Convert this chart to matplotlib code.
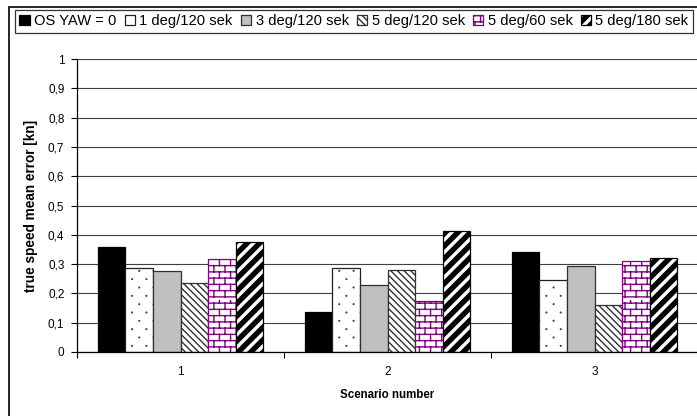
import numpy as np
import matplotlib
matplotlib.use("Agg")
import matplotlib.pyplot as plt
import matplotlib.hatch as mhatch
from matplotlib.path import Path
from matplotlib.patches import Rectangle
from matplotlib.ticker import FuncFormatter, MultipleLocator, FixedLocator

# ---------------------------------------------------------------- data
scenarios = ["1", "2", "3"]
series_names = ["OS YAW = 0", "1 deg/120 sek", "3 deg/120 sek",
                "5 deg/120 sek", "5 deg/60 sek", "5 deg/180 sek"]
os_yaw_0 = [0.357, 0.136, 0.343]
deg1_120 = [0.286, 0.286, 0.247]
deg3_120 = [0.275, 0.230, 0.293]
deg5_120 = [0.237, 0.280, 0.161]
deg5_60 = [0.318, 0.174, 0.310]
deg5_180 = [0.374, 0.412, 0.321]
series_values = [os_yaw_0, deg1_120, deg3_120, deg5_120, deg5_60, deg5_180]
y_ticks = [0.0, 0.1, 0.2, 0.3, 0.4, 0.5, 0.6, 0.7, 0.8, 0.9, 1.0]


# ---------------------------------------------------------------- custom fill patterns
class SparseDots(mhatch.HatchPatternBase):
    """Staggered small filled dots, triggered by 'o'."""
    rows, cols, radius, nseg = 12, 7, 0.003, 6

    def __init__(self, hatch, density):
        self.on = hatch.count('o') > 0
        self.num_shapes = self.rows * self.cols
        self.num_vertices = self.num_shapes * (self.nseg + 1) if self.on else 0

    def set_vertices_and_codes(self, vertices, codes):
        ang = np.linspace(0, 2 * np.pi, self.nseg, endpoint=False)
        circ = np.column_stack([np.cos(ang), np.sin(ang)]) * self.radius
        k = 0
        for r in range(self.rows):
            y = (r + 0.5) / self.rows
            for c in range(self.cols):
                x = (c + (0.25 if r % 2 == 0 else 0.75)) / self.cols
                vertices[k:k + self.nseg] = circ + (x, y)
                vertices[k + self.nseg] = (x, y)
                codes[k] = Path.MOVETO
                codes[k + 1:k + self.nseg] = Path.LINETO
                codes[k + self.nseg] = Path.CLOSEPOLY
                k += self.nseg + 1


class Bricks(mhatch.HatchPatternBase):
    """Brick wall pattern, triggered by '*'."""
    rows, cols = 16, 9

    def __init__(self, hatch, density):
        self.on = hatch.count('*') > 0
        n = self.rows + self.rows * self.cols
        self.num_vertices = 2 * n if self.on else 0

    def set_vertices_and_codes(self, vertices, codes):
        k = 0
        h = 1.0 / self.rows
        for r in range(self.rows):
            y = (r + 0.5) * h
            vertices[k] = (0, y)
            vertices[k + 1] = (1, y)
            k += 2
        for r in range(self.rows):
            y0 = (r + 0.5) * h
            for c in range(self.cols):
                x = (c + (0.25 if r % 2 == 0 else 0.75)) / self.cols
                vertices[k] = (x, y0)
                vertices[k + 1] = (x, y0 + h)
                k += 2
        codes[0::2] = Path.MOVETO
        codes[1::2] = Path.LINETO


class WideStripes(mhatch.HatchPatternBase):
    """Broad filled '/' stripes, triggered by 'O'."""
    period, frac = 1.0 / 8, 0.45

    def __init__(self, hatch, density):
        self.on = hatch.count('O') > 0
        self.offsets = np.arange(-1.0, 1.0 + 1e-9, self.period)
        self.num_vertices = len(self.offsets) * 5 if self.on else 0

    def set_vertices_and_codes(self, vertices, codes):
        w = self.period * self.frac
        k = 0
        for x0 in self.offsets:
            vertices[k:k + 5] = [(x0, 0), (x0 + w, 0), (x0 + w + 1, 1),
                                 (x0 + 1, 1), (x0, 0)]
            codes[k] = Path.MOVETO
            codes[k + 1:k + 4] = Path.LINETO
            codes[k + 4] = Path.CLOSEPOLY
            k += 5


mhatch._hatch_types = [t for t in mhatch._hatch_types
                       if t not in (mhatch.SmallCircles, mhatch.LargeCircles,
                                    mhatch.Stars)]
mhatch._hatch_types += [SparseDots, Bricks, WideStripes]

# ---------------------------------------------------------------- styling
plt.rcParams['font.family'] = ['Liberation Sans', 'DejaVu Sans']
plt.rcParams['hatch.linewidth'] = 1.0

styles = [
    dict(color="black", edgecolor="black", hatch=None),
    dict(color="white", edgecolor="#202020", hatch="o"),
    dict(color="#c0c0c0", edgecolor="#303030", hatch=None),
    dict(color="white", edgecolor="#303030", hatch="\\" * 5),
    dict(color="white", edgecolor="#800080", hatch="*"),
    dict(color="white", edgecolor="black", hatch="O"),
]

W, H = 697, 416
fig = plt.figure(figsize=(W / 100, H / 100), dpi=100)
ax = fig.add_axes([77 / W, (H - 352) / H, (698 - 77) / W, (352 - 59) / H])

x = np.arange(len(scenarios))
n = len(series_values)
bw = 0.8 / n
handles = []
for i, (name, vals, st) in enumerate(zip(series_names, series_values, styles)):
    bars = ax.bar(x + (i - (n - 1) / 2) * bw, vals, bw, label=name,
                  color=st["color"], edgecolor=st["edgecolor"],
                  hatch=st["hatch"], linewidth=0.9, zorder=3)
    handles.append(bars)

ax.set_xlim(-0.5, len(scenarios) - 0.5)
ax.set_ylim(0, 1)
ax.yaxis.set_major_locator(FixedLocator(y_ticks))
ax.yaxis.set_major_formatter(
    FuncFormatter(lambda v, p: ("%g" % round(v, 1)).replace(".", ",")))
ax.set_xticks(x)
ax.set_xticklabels(scenarios)
ax.xaxis.set_minor_locator(MultipleLocator(1, offset=0.5))
ax.tick_params(axis="x", which="major", length=0, pad=10, labelsize=8.5)
ax.tick_params(axis="x", which="minor", length=4, width=0.8, direction="out")
ax.tick_params(axis="y", which="major", length=4, width=0.8, direction="out",
               pad=5, labelsize=8.5)

ax.grid(axis="y", color="#404040", linewidth=0.8, zorder=0)
for side in ("top", "right"):
    ax.spines[side].set_visible(False)
for side in ("left", "bottom"):
    ax.spines[side].set_linewidth(0.9)
    ax.spines[side].set_zorder(4)

ax.set_ylabel("true speed mean error [kn]", fontsize=9.8, fontweight="bold")
ax.yaxis.set_label_coords(-0.062, 0.5)
ax.set_xlabel("Scenario number", fontsize=8.3, fontweight="bold")
ax.xaxis.set_label_coords(0.5, -0.125)

leg = fig.legend(handles=handles, labels=series_names, loc="upper left",
                 bbox_to_anchor=(15 / W, 1 - 10 / H), ncol=n, fontsize=10.6,
                 frameon=True, fancybox=False, shadow=False,
                 handlelength=0.7, handleheight=0.7, handletextpad=0.3,
                 columnspacing=0.55, borderpad=0.3, borderaxespad=0)
leg.get_frame().set_edgecolor("black")
leg.get_frame().set_linewidth(0.9)

# outer chart border
fig.patches.append(Rectangle((9 / W, -0.5), 2, 1.5 - 7 / H, fill=False,
                             edgecolor="black", linewidth=1.2,
                             transform=fig.transFigure, figure=fig))

fig.savefig("out.png", dpi=100)
